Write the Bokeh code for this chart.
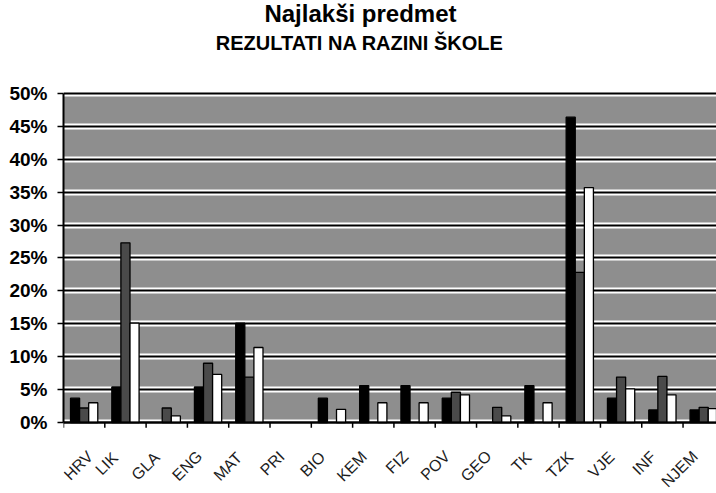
from bokeh.plotting import figure
from bokeh.models import (Range1d, FixedTicker, PrintfTickFormatter, Grid, ColumnDataSource,
                          Label, BoxAnnotation)
from bokeh.embed import file_html
from bokeh.resources import INLINE
from bokeh.core.properties import value
import math

title_text = "Najlakši predmet"
subtitle_text = "REZULTATI NA RAZINI ŠKOLE"
categories = ["HRV", "LIK", "GLA", "ENG", "MAT", "PRI", "BIO", "KEM", "FIZ", "POV", "GEO", "TK", "TZK", "VJE", "INF", "NJEM"]
series_a = [3.7, 5.4, 0.0, 5.4, 15.1, 0.0, 3.7, 5.6, 5.6, 3.7, 0.0, 5.6, 46.4, 3.7, 1.9, 1.9]
series_b = [2.2, 27.3, 2.2, 9.0, 6.9, 0.0, 0.0, 0.0, 0.0, 4.6, 2.3, 0.0, 22.8, 6.9, 7.0, 2.3]
series_c = [3.0, 15.1, 1.0, 7.3, 11.4, 0.0, 2.0, 3.0, 3.0, 4.2, 1.0, 3.0, 35.7, 5.1, 4.2, 2.1]
y_ticks = [0, 5, 10, 15, 20, 25, 30, 35, 40, 45, 50]

FONT = "Liberation Sans"
Y_MAX = 50
PX_X = 41.3   # px per category
PX_Y = 6.58   # px per percent

p = figure(width=716, height=493, output_backend="svg", toolbar_location=None,
           x_range=Range1d(0, 15.81), y_range=Range1d(-10.79, 64.13), title=None,
           x_axis_location=None,
           min_border_left=63, min_border_right=0, min_border_top=0, min_border_bottom=0)
p.border_fill_color = "white"
p.background_fill_color = "white"
p.outline_line_color = None

# gray plot area between 0% and 50%
p.add_layout(BoxAnnotation(bottom=0, top=Y_MAX, fill_color="#8e8e8e", fill_alpha=1,
                           line_color=None, level="image"))

centers = [i + 0.5 for i in range(len(categories))]
bounds = [i for i in range(len(categories) + 1)]

w = 0.22
styles = [(series_a, -w, "black"), (series_b, 0.0, "#4a4a4a"), (series_c, w, "white")]
for vals, off, col in styles:
    xs = [c + off for c, v in zip(centers, vals) if v > 0]
    ts = [v for v in vals if v > 0]
    src = ColumnDataSource(dict(x=xs, top=ts))
    p.vbar(x="x", top="top", bottom=0, width=w, source=src, fill_color=col,
           line_color="black", line_width=1.3)

# x axis: baseline, tick marks at category boundaries, rotated labels
p.segment(x0=[0], y0=[0], x1=[len(categories)], y1=[0], line_color="black", line_width=2)
p.segment(x0=bounds, y0=[0] * len(bounds), x1=bounds, y1=[-0.8] * len(bounds),
          line_color="black", line_width=1.5)

# approximate advance widths (em) of the sans font, to place left-anchored rotated labels
adv = {"H": .722, "R": .722, "V": .667, "L": .611, "I": .278, "K": .722, "G": .778, "A": .722,
       "E": .667, "N": .722, "M": .833, "T": .611, "P": .667, "B": .722, "O": .778, "F": .611,
       "Z": .611, "J": .556}
fs = 16
c45 = math.cos(math.pi / 4)
lab_x, lab_y = [], []
for c, lab in zip(centers, categories):
    L = sum(adv.get(ch, .7) for ch in lab) * fs * 0.93
    ex, ey = -10.0, 33.0
    sx = ex + 5.7 - c45 * L
    sy = ey + 5.7 + c45 * L
    lab_x.append(max(c + sx / PX_X, 9.0 / PX_X))
    lab_y.append(-sy / PX_Y)
p.text(x=lab_x, y=lab_y, text=categories, angle=0.7854,
       text_font=value(FONT), text_font_size=f"{fs}px", text_color="#1c1c1c")

# titles
p.add_layout(Label(x=7.19, y=62.2, text=title_text, text_align="center", text_baseline="alphabetic",
                   text_font=FONT, text_font_style="bold", text_font_size="24px", text_color="black"))
p.add_layout(Label(x=7.17, y=57.6, text=subtitle_text, text_align="center", text_baseline="alphabetic",
                   text_font=FONT, text_font_style="bold", text_font_size="20px", text_color="black"))

# y axis
p.yaxis.ticker = FixedTicker(ticks=y_ticks)
p.yaxis.bounds = (0, Y_MAX)
p.yaxis.formatter = PrintfTickFormatter(format="%d%%")
p.yaxis.major_tick_out = 6
p.yaxis.major_tick_in = 0
p.yaxis.minor_tick_line_color = None
p.yaxis.major_tick_line_color = "black"
p.yaxis.major_tick_line_width = 1.5
p.yaxis.axis_line_color = "black"
p.yaxis.axis_line_width = 2
p.yaxis.major_label_text_font = FONT
p.yaxis.major_label_text_font_style = "bold"
p.yaxis.major_label_text_font_size = "19px"
p.yaxis.major_label_text_color = "black"
p.yaxis.major_label_standoff = 10

# grid: white band with black line
p.xgrid.visible = False
p.ygrid.ticker = FixedTicker(ticks=y_ticks)
p.ygrid.grid_line_color = "white"
p.ygrid.grid_line_width = 6
p.ygrid.grid_line_alpha = 1.0
g2 = Grid(dimension=1, ticker=FixedTicker(ticks=y_ticks), grid_line_color="black", grid_line_width=1.8)
p.add_layout(g2)

open("out.html", "w").write(file_html(p, INLINE))
